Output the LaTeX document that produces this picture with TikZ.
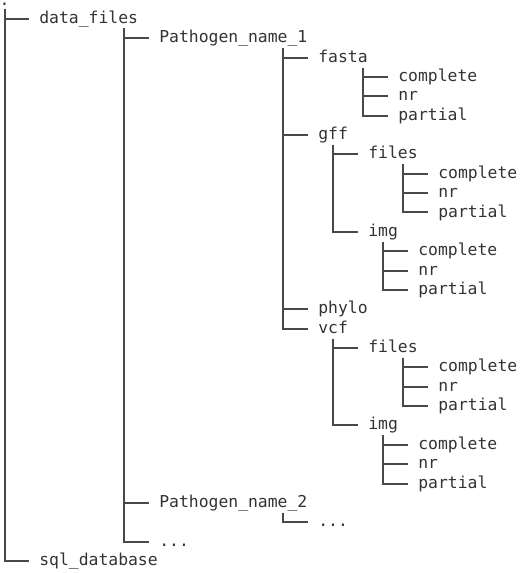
\documentclass[tikz,border=0pt]{standalone}
\usepackage{fontspec}
\setmonofont{DejaVu Sans Mono}
\usetikzlibrary{calc}
\definecolor{linecol}{HTML}{484848}
\definecolor{txtcol}{HTML}{333333}
\tikzset{
  item/.style={anchor=west,inner sep=0pt,text height=9pt,text depth=2.2pt,
    font=\ttfamily\fontsize{12.3}{14}\selectfont,text=txtcol},
  rootdot/.style={anchor=base,inner sep=0pt,
    font=\ttfamily\fontsize{12.3}{14}\selectfont,text=txtcol},
  branch/.style={draw=linecol,line width=1.5pt},
}
\newcommand{\rowy}[1]{\fpeval{18.9+19.36*#1}}
\begin{document}
\begin{tikzpicture}[x=0.75pt,y=-0.75pt]
\useasboundingbox (0,0) rectangle (520,573);
% root
\node[rootdot] (root) at (4.5,5.8) {.};
\coordinate (v-root) at (4.5,9);
% nodes
\node[item] (datafiles) at (39,{\rowy{0}}) {data\_files};
\node[item] (p1) at (159,{\rowy{1}}) {Pathogen\_name\_1};
\node[item] (fasta) at (318,{\rowy{2}}) {fasta};
\node[item] (fa-c) at (398,{\rowy{3}}) {complete};
\node[item] (fa-n) at (398,{\rowy{4}}) {nr};
\node[item] (fa-p) at (398,{\rowy{5}}) {partial};
\node[item] (gff) at (318,{\rowy{6}}) {gff};
\node[item] (gff-f) at (368,{\rowy{7}}) {files};
\node[item] (gff-fc) at (438,{\rowy{8}}) {complete};
\node[item] (gff-fn) at (438,{\rowy{9}}) {nr};
\node[item] (gff-fp) at (438,{\rowy{10}}) {partial};
\node[item] (gff-i) at (368,{\rowy{11}}) {img};
\node[item] (gff-ic) at (418,{\rowy{12}}) {complete};
\node[item] (gff-in) at (418,{\rowy{13}}) {nr};
\node[item] (gff-ip) at (418,{\rowy{14}}) {partial};
\node[item] (phylo) at (318,{\rowy{15}}) {phylo};
\node[item] (vcf) at (318,{\rowy{16}}) {vcf};
\node[item] (vcf-f) at (368,{\rowy{17}}) {files};
\node[item] (vcf-fc) at (438,{\rowy{18}}) {complete};
\node[item] (vcf-fn) at (438,{\rowy{19}}) {nr};
\node[item] (vcf-fp) at (438,{\rowy{20}}) {partial};
\node[item] (vcf-i) at (368,{\rowy{21}}) {img};
\node[item] (vcf-ic) at (418,{\rowy{22}}) {complete};
\node[item] (vcf-in) at (418,{\rowy{23}}) {nr};
\node[item] (vcf-ip) at (418,{\rowy{24}}) {partial};
\node[item] (p2) at (159,{\rowy{25}}) {Pathogen\_name\_2};
\node[item] (p2-d) at (318,{\rowy{26}}) {...};
\node[item] (df-d) at (159,{\rowy{27}}) {...};
\node[item] (sql) at (39,{\rowy{28}}) {sql\_database};
% vertical line tops
\coordinate (v-datafiles) at (124,{\rowy{0}+9.5});
\coordinate (v-p1) at (283,{\rowy{1}+10});
\coordinate (v-fasta) at (363,{\rowy{2}+10});
\coordinate (v-gff) at (333,{\rowy{6}+10});
\coordinate (v-gff-f) at (403,{\rowy{7}+10});
\coordinate (v-gff-i) at (383,{\rowy{11}+10});
\coordinate (v-vcf) at (333,{\rowy{16}+10});
\coordinate (v-vcf-f) at (403,{\rowy{17}+10});
\coordinate (v-vcf-i) at (383,{\rowy{21}+10});
\coordinate (v-p2) at (283,{\rowy{25}+10});
% connectors
\foreach \p/\c in {root/datafiles,root/sql,
  datafiles/p1,datafiles/p2,datafiles/df-d,
  p1/fasta,p1/gff,p1/phylo,p1/vcf,
  fasta/fa-c,fasta/fa-n,fasta/fa-p,
  gff/gff-f,gff/gff-i,
  gff-f/gff-fc,gff-f/gff-fn,gff-f/gff-fp,
  gff-i/gff-ic,gff-i/gff-in,gff-i/gff-ip,
  vcf/vcf-f,vcf/vcf-i,
  vcf-f/vcf-fc,vcf-f/vcf-fn,vcf-f/vcf-fp,
  vcf-i/vcf-ic,vcf-i/vcf-in,vcf-i/vcf-ip,
  p2/p2-d}
  \draw[branch] (v-\p) |- ($(\c.west)+(-10,0)$);
\end{tikzpicture}
\end{document}
